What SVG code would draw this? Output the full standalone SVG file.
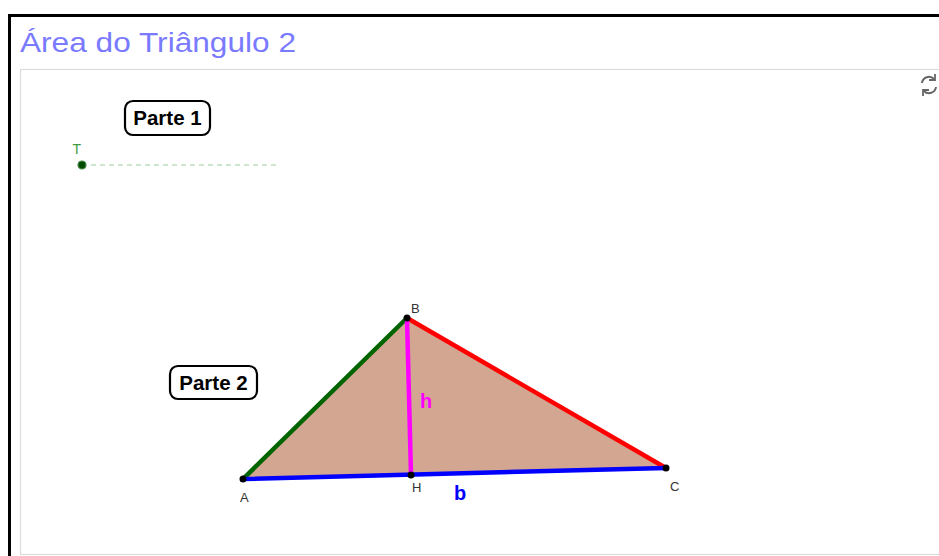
<svg xmlns="http://www.w3.org/2000/svg" width="939" height="556" viewBox="0 0 939 556">
  <style>
    .lbl { font-family: "Liberation Sans", Arial, sans-serif; font-size: 13px; fill: #333; }
    .btn { fill: #fff; stroke: #000; stroke-width: 2.2; }
    .btntxt { font-family: "Liberation Sans", Arial, sans-serif; font-size: 20.5px; font-weight: bold; fill: #000; }
    .pt { fill: #000; }
    .edge { stroke-width: 4.5; stroke-linecap: round; fill: none; }
  </style>
  <rect x="0" y="0" width="939" height="556" fill="#fff"/>
  <!-- outer frame -->
  <g id="frame">
    <line x1="9.5" y1="15.5" x2="939" y2="15.5" stroke="#000" stroke-width="3"/>
    <line x1="9.5" y1="14" x2="9.5" y2="556" stroke="#000" stroke-width="3"/>
    <text x="20" y="52" font-family="'Liberation Sans', Arial, sans-serif" font-size="28" fill="#7a7aff" textLength="276" lengthAdjust="spacingAndGlyphs">Área do Triângulo 2</text>
    <rect x="20.5" y="69.5" width="930" height="485" fill="#fff" stroke="#dcdcdc" stroke-width="1.2"/>
  </g>
  <!-- refresh icon -->
  <g id="refresh" fill="none" stroke="#666" stroke-width="2">
    <path d="M 922 83 A 7 7 0 0 1 934 79"/>
    <path d="M 936 87 A 7 7 0 0 1 924 91"/>
    <path d="M 935 74 L 935 80 L 929 80" stroke-width="1.8"/>
    <path d="M 923 96 L 923 90 L 929 90" stroke-width="1.8"/>
  </g>
  <!-- Parte 1 -->
  <g id="parte1">
    <rect class="btn" x="125" y="101" width="85" height="34" rx="8"/>
    <text class="btntxt" x="167.5" y="125" text-anchor="middle">Parte 1</text>
  </g>
  <!-- slider T -->
  <g id="sliderT">
    <line x1="91" y1="165" x2="277" y2="165" stroke="#9ccc9c" stroke-width="1" stroke-dasharray="5,4"/>
    <circle cx="82" cy="165" r="4" fill="#004d00" stroke="#4a8a4a" stroke-width="1.2"/>
    <text x="72.5" y="154" font-family="'Liberation Sans', Arial, sans-serif" font-size="14" fill="#3e9a3e">T</text>
  </g>
  <!-- Parte 2 -->
  <g id="parte2">
    <rect class="btn" x="170" y="366" width="87" height="33" rx="8"/>
    <text class="btntxt" x="213.5" y="390" text-anchor="middle">Parte 2</text>
  </g>
  <!-- triangle -->
  <g id="triangle">
    <polygon points="243,479 407,318 666,468" fill="#d2a690"/>
  </g>
  <g id="connectors">
    <line class="edge" x1="243" y1="479" x2="407" y2="318" stroke="#006400"/>
    <line class="edge" x1="407" y1="318" x2="666" y2="468" stroke="#ff0000"/>
    <line class="edge" x1="407" y1="318" x2="411" y2="475" stroke="#ff00ff"/>
    <line class="edge" x1="243" y1="479" x2="666" y2="468" stroke="#0000ff"/>
  </g>
  <g id="A"><circle class="pt" cx="243" cy="479" r="3.5"/><text class="lbl" x="240" y="502">A</text></g>
  <g id="B"><circle class="pt" cx="407" cy="318" r="3.5"/><text class="lbl" x="411" y="313">B</text></g>
  <g id="C"><circle class="pt" cx="666" cy="468" r="3.5"/><text class="lbl" x="670" y="491">C</text></g>
  <g id="H"><circle class="pt" cx="411" cy="475" r="3.5"/><text class="lbl" x="412" y="492">H</text></g>
  <g id="labels">
    <text x="420" y="408" font-family="'Liberation Sans', Arial, sans-serif" font-size="20" font-weight="bold" fill="#ff00ff">h</text>
    <text x="454" y="500" font-family="'Liberation Sans', Arial, sans-serif" font-size="20" font-weight="bold" fill="#0000ff">b</text>
  </g>
</svg>
